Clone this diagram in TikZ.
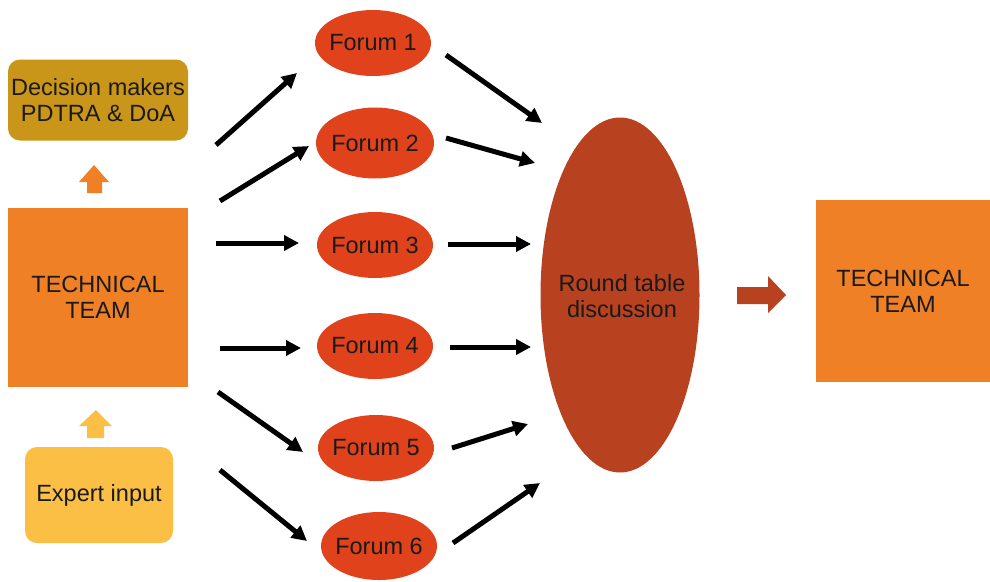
\documentclass[tikz,border=0pt]{standalone}
\usepackage{fontspec}
\setmainfont{Liberation Sans}
\usetikzlibrary{arrows.meta,shapes.geometric}
\definecolor{gold}{HTML}{C9961A}
\definecolor{orng}{HTML}{F08026}
\definecolor{yell}{HTML}{FBBF45}
\definecolor{forumred}{HTML}{E0431C}
\definecolor{rtred}{HTML}{B8411F}
\definecolor{txt}{HTML}{1A1A1A}
\tikzset{
  lbl/.style={font=\fontsize{23.5}{26}\selectfont, text=txt, align=center},
  sqbox/.style={lbl, draw=none, inner sep=0pt},
  rbox/.style={lbl, rounded corners=12pt, inner sep=0pt},
  forum/.style={lbl, ellipse, fill=forumred, minimum width=116pt, minimum height=66pt, inner xsep=-20pt, inner ysep=-4pt},
  conn/.style={line width=5pt, black, -{Triangle[length=15pt,width=15pt]}, shorten >=0pt},
}
\begin{document}
\begin{tikzpicture}[x=1pt,y=-1pt]
\useasboundingbox (0,0) rectangle (990,581);
% boxes
\node[rbox, fill=gold, minimum width=180pt, minimum height=81pt] (dm) at (98,100) {Decision makers\\PDTRA \& DoA};
\node[sqbox, fill=orng, minimum width=180pt, minimum height=179pt] (tt) at (98,297) {TECHNICAL\\TEAM};
\node[rbox, fill=yell, minimum width=148pt, minimum height=96pt] (ex) at (99,495) {Expert input};
\node[sqbox, fill=orng, minimum width=174pt, minimum height=182pt] (tt2) at (903,291) {TECHNICAL\\TEAM};
% forums
\node[forum] (f1) at (373,43) {Forum 1};
\node[forum, minimum width=118pt, minimum height=71pt] (f2) at (375,143) {Forum 2};
\node[forum] (f3) at (375,245) {Forum 3};
\node[forum] (f4) at (375,346) {Forum 4};
\node[forum] (f5) at (376,448) {Forum 5};
\node[forum, minimum height=68pt] (f6) at (379,546) {Forum 6};
% round table
\node[lbl, ellipse, fill=rtred, minimum width=159pt, minimum height=355pt, inner sep=0pt] (rt) at (620,295) {};
\node[lbl] (rtl) at (622,296) {Round table\\discussion};
% block arrows
\fill[orng] (87,193) -- (102,193) -- (102,182) -- (109,182) -- (94,165) -- (79,182) -- (87,182) -- cycle;
\fill[yell] (87,438) -- (104,438) -- (104,426) -- (112,426) -- (96,410) -- (79,426) -- (87,426) -- cycle;
\fill[rtred] (737,287) -- (768,287) -- (768,276) -- (786,295) -- (768,313) -- (768,304) -- (737,304) -- cycle;
% connector endpoints
\coordinate (a1s) at (216,145); \coordinate (a1e) at (297,73);
\coordinate (a2s) at (220,201); \coordinate (a2e) at (309,146);
\coordinate (a3s) at (216,243); \coordinate (a3e) at (299,243);
\coordinate (a4s) at (220,348); \coordinate (a4e) at (301,348);
\coordinate (a5s) at (218,392); \coordinate (a5e) at (303,452);
\coordinate (a6s) at (220,470); \coordinate (a6e) at (307,541);
\coordinate (b1s) at (446,55);  \coordinate (b1e) at (542,123);
\coordinate (b2s) at (446,138); \coordinate (b2e) at (535,163);
\coordinate (b3s) at (448,244); \coordinate (b3e) at (531,244);
\coordinate (b4s) at (450,347); \coordinate (b4e) at (531,347);
\coordinate (b5s) at (452,448); \coordinate (b5e) at (528,424);
\coordinate (b6s) at (453,543); \coordinate (b6e) at (540,483);
\foreach \i in {1,...,6} {
  \draw[conn] (a\i s) -- (a\i e);
  \draw[conn] (b\i s) -- (b\i e);
}
\end{tikzpicture}
\end{document}
